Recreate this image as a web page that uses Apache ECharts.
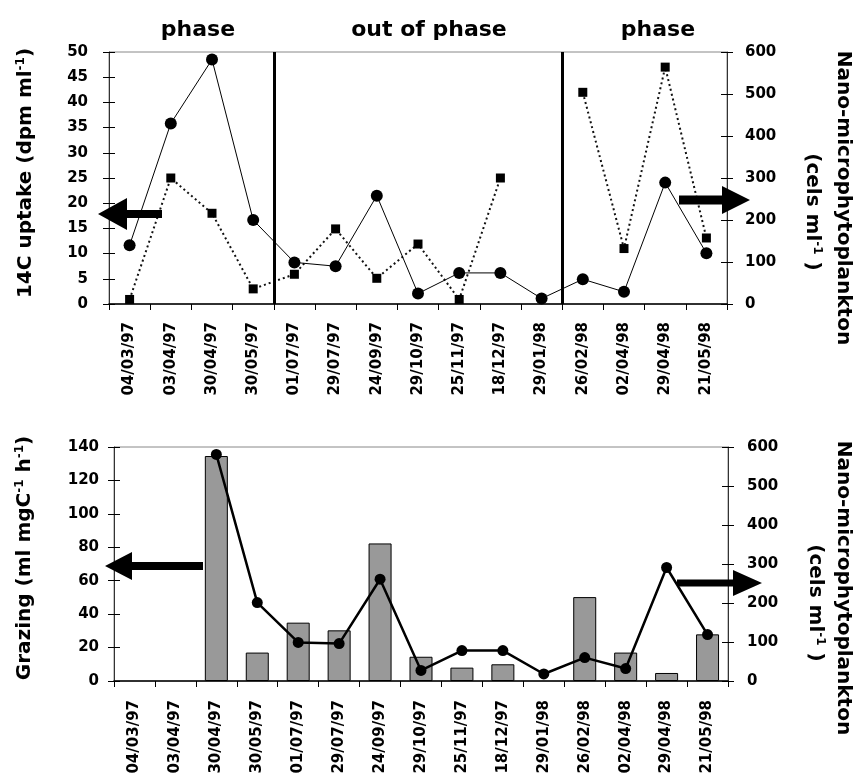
<!DOCTYPE html>
<html>
<head>
<meta charset="utf-8">
<script src="https://cdn.jsdelivr.net/npm/echarts@6/dist/echarts.min.js"></script>
<style>html,body{margin:0;padding:0;background:#fff;}#c{width:856px;height:778px;}</style>
</head>
<body>
<div id="c"></div>
<script>
// ---- data ----
var categories = ['04/03/97','03/04/97','30/04/97','30/05/97','01/07/97','29/07/97','24/09/97','29/10/97','25/11/97','18/12/97','29/01/98','26/02/98','02/04/98','29/04/98','21/05/98'];
var uptake14C = [0.9, 25, 18, 3, 5.9, 14.9, 5.1, 11.9, 0.9, 25, null, 42, 11, 47, 13.1];
var nanoTop = [140, 430, 582, 200, 99, 90, 258, 25, 74, 74, 13, 59, 29, 289, 121];
var grazing = [null, null, 134.6, 17, 34.9, 30.3, 82.3, 14.5, 8, 10, null, 50.2, 17, 4.8, 27.9];
var nanoBottom = [null, null, 581, 201, 99, 96, 261, 27, 78, 78, 18, 60, 32, 291, 119];
var phaseBoundaries = [4, 11];
var phaseLabels = ['phase', 'out of phase', 'phase'];

var FONT = 'DejaVu Sans';
var chart = echarts.init(document.getElementById('c'), null, {renderer: 'canvas'});

function catAxis(grid, labelMargin) {
  return {
    type: 'category', gridIndex: grid, data: categories, boundaryGap: true,
    axisLine: {show: true, lineStyle: {color: '#000', width: 1.5}},
    axisTick: {show: true, interval: 0, length: 6, lineStyle: {color: '#000', width: 1}},
    axisLabel: {interval: 0, rotate: 90, margin: labelMargin, color: '#000', fontSize: 15, fontWeight: 'bold', fontFamily: FONT},
    splitLine: {show: false}
  };
}
function catAxisInside(grid) {
  return {
    type: 'category', gridIndex: grid, data: categories, boundaryGap: true,
    axisLine: {show: false},
    axisTick: {show: true, inside: true, interval: 0, length: 5, lineStyle: {color: '#000', width: 1}},
    axisLabel: {show: false}, splitLine: {show: false}
  };
}
function valAxis(grid, pos, max, interval, margin) {
  return {
    type: 'value', gridIndex: grid, position: pos, min: 0, max: max, interval: interval,
    axisLine: {show: true, lineStyle: {color: '#333', width: 1}},
    axisTick: {show: true, length: 6, lineStyle: {color: '#000', width: 1}},
    axisLabel: {margin: margin, color: '#000', fontSize: 15, fontWeight: 'bold', fontFamily: FONT},
    splitLine: {show: false}
  };
}
function valAxisInside(grid, pos, max, interval) {
  return {
    type: 'value', gridIndex: grid, position: pos, min: 0, max: max, interval: interval,
    axisLine: {show: false},
    axisTick: {show: true, inside: true, length: 6, lineStyle: {color: '#000', width: 1}},
    axisLabel: {show: false}, splitLine: {show: false}
  };
}

function leftArrow(tipX, cy, baseX, endX, h, t) {
  return {type: 'polygon', shape: {points: [[tipX, cy], [baseX, cy - h], [baseX, cy - t], [endX, cy - t], [endX, cy + t], [baseX, cy + t], [baseX, cy + h]]}, style: {fill: '#000'}, z: 100};
}
function rightArrow(tipX, cy, baseX, endX, h, t) {
  return {type: 'polygon', shape: {points: [[tipX, cy], [baseX, cy - h], [baseX, cy - t], [endX, cy - t], [endX, cy + t], [baseX, cy + t], [baseX, cy + h]]}, style: {fill: '#000'}, z: 100};
}
var rich = {sup: {fontSize: 12, fontWeight: 'bold', fontFamily: FONT, verticalAlign: 'top', lineHeight: 22}};
function vtext(x, y, txt, rot) {
  return {type: 'text', x: x, y: y, rotation: rot, z: 100,
    style: {text: txt, fill: '#000', fontSize: 20, fontWeight: 'bold', fontFamily: FONT, align: 'center', verticalAlign: 'middle', rich: rich}};
}
function htext(x, y, txt) {
  return {type: 'text', x: x, y: y, z: 100,
    style: {text: txt, fill: '#000', fontSize: 22, fontWeight: 'bold', fontFamily: FONT, align: 'center', verticalAlign: 'middle'}};
}

var option = {
  animation: false,
  backgroundColor: '#fff',
  grid: [
    {left: 109, top: 52, width: 618, height: 252, show: true, borderColor: '#888', borderWidth: 1, backgroundColor: 'transparent'},
    {left: 114, top: 447, width: 614, height: 234, show: true, borderColor: '#888', borderWidth: 1, backgroundColor: 'transparent'}
  ],
  xAxis: [
    catAxis(0, 18),
    catAxisInside(0),
    {type: 'value', gridIndex: 0, min: 0, max: categories.length, show: false},
    catAxis(1, 19),
    catAxisInside(1)
  ],
  yAxis: [
    valAxis(0, 'left', 50, 5, 21),
    valAxis(0, 'right', 600, 100, 18),
    valAxis(1, 'left', 140, 20, 15),
    valAxis(1, 'right', 600, 100, 19),
    valAxisInside(0, 'left', 50, 5),
    valAxisInside(0, 'right', 600, 100),
    valAxisInside(1, 'left', 140, 20),
    valAxisInside(1, 'right', 600, 100)
  ],
  series: [
    {
      type: 'line', xAxisIndex: 2, yAxisIndex: 0, data: [], silent: true,
      markLine: {silent: true, symbol: ['none', 'none'], label: {show: false},
        lineStyle: {color: '#000', width: 3, type: 'solid'},
        data: phaseBoundaries.map(function (b) { return {xAxis: b}; })}
    },
    {
      name: '14C uptake', type: 'line', xAxisIndex: 0, yAxisIndex: 0, data: uptake14C,
      connectNulls: false, symbol: 'rect', symbolSize: 9,
      itemStyle: {color: '#000'}, lineStyle: {color: '#111', width: 2, type: [2, 3]}, z: 3
    },
    {
      name: 'Nano-microphytoplankton', type: 'line', xAxisIndex: 0, yAxisIndex: 1, data: nanoTop,
      symbol: 'circle', symbolSize: 12,
      itemStyle: {color: '#000'}, lineStyle: {color: '#000', width: 1}, z: 4
    },
    {
      name: 'Grazing', type: 'bar', xAxisIndex: 3, yAxisIndex: 2, data: grazing, barWidth: 23,
      itemStyle: {color: '#999999', borderColor: '#000', borderWidth: 1}, z: 2
    },
    {
      name: 'Nano-microphytoplankton (bottom)', type: 'line', xAxisIndex: 3, yAxisIndex: 3, data: nanoBottom,
      connectNulls: true, symbol: 'circle', symbolSize: 11,
      itemStyle: {color: '#000'}, lineStyle: {color: '#000', width: 2.5}, z: 4
    }
  ],
  graphic: [
    htext(198, 30, phaseLabels[0]),
    htext(429, 30, phaseLabels[1]),
    htext(658, 30, phaseLabels[2]),
    vtext(26, 173, '14C uptake (dpm ml{sup|-1})', Math.PI / 2),
    vtext(843, 198, 'Nano-microphytoplankton', -Math.PI / 2),
    vtext(812, 212, '(cels ml{sup|-1} )', -Math.PI / 2),
    vtext(25, 558, 'Grazing (ml mgC{sup|-1} h{sup|-1})', Math.PI / 2),
    vtext(843, 588, 'Nano-microphytoplankton', -Math.PI / 2),
    vtext(815, 603, '(cels ml{sup|-1} )', -Math.PI / 2),
    leftArrow(98, 214, 127, 162, 16, 4),
    rightArrow(750, 200, 722, 679, 14, 4.5),
    leftArrow(105, 566, 132, 203, 14, 4),
    rightArrow(762, 583, 733, 677, 13, 3.5)
  ]
};
chart.setOption(option);
</script>
</body>
</html>
